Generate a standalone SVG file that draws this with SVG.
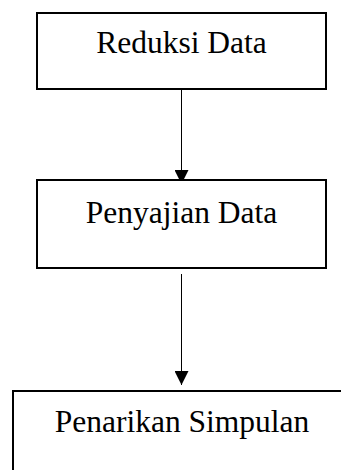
<svg xmlns="http://www.w3.org/2000/svg" width="341" height="470" viewBox="0 0 341 470">
<style>
.box{fill:#fff;stroke:#000;stroke-width:2}
.lbl{font-family:"Liberation Serif","Times New Roman",serif;font-size:31.5px;fill:#000;text-anchor:middle}
.con{stroke:#000;stroke-width:1;fill:none}
</style>
<defs>
<marker id="ah" markerWidth="14" markerHeight="14" refX="14" refY="7" orient="auto" markerUnits="userSpaceOnUse">
<path d="M0,0 L14,7 L0,14 Z" fill="#000"/>
</marker>
</defs>
<rect width="341" height="470" fill="#fff"/>
<g id="connectors">
<line class="con" x1="181.5" y1="89" x2="181.5" y2="184" marker-end="url(#ah)"/>
<line class="con" x1="181.5" y1="274" x2="181.5" y2="385" marker-end="url(#ah)"/>
</g>
<g id="node-reduksi">
<rect class="box" x="37" y="13" width="289" height="76"/>
<text class="lbl" x="181.5" y="53">Reduksi Data</text>
</g>
<g id="node-penyajian">
<rect class="box" x="37" y="180" width="289" height="88"/>
<text class="lbl" x="181.5" y="223">Penyajian Data</text>
</g>
<g id="node-penarikan">
<rect class="box" x="13" y="391" width="340" height="100"/>
<text class="lbl" x="182" y="432">Penarikan Simpulan</text>
</g>
</svg>
